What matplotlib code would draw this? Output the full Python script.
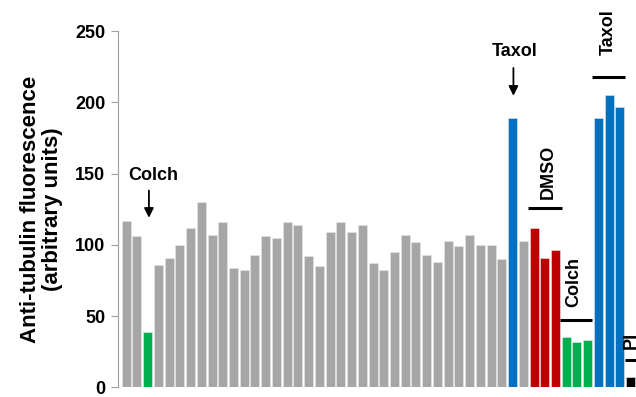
import matplotlib.pyplot as plt
import numpy as np

plt.rcParams['font.family'] = ['Liberation Sans', 'DejaVu Sans']
plt.rcParams['font.weight'] = 'bold'

# screening wells, then controls
screen_vals = [117, 106, 39, 86, 91, 100, 112, 130, 107, 116, 84, 82,
               93, 106, 105, 116, 114, 92, 85, 109, 116, 109, 114, 87,
               82, 95, 107, 102, 93, 88, 103, 99, 107, 100, 100, 90,
               189, 103]
colch_hit = 2
taxol_hit = 36
dmso_vals = [112, 91, 96]
colch_vals = [35, 32, 33]
taxol_vals = [189, 205, 197]
pi_vals = [7]

GRAY = '#a6a6a6'
GREEN = '#00b050'
BLUE = '#0070c0'
RED = '#c00000'

heights = screen_vals + dmso_vals + colch_vals + taxol_vals + pi_vals
colors = [GRAY] * len(screen_vals)
colors[colch_hit] = GREEN
colors[taxol_hit] = BLUE
colors += [RED] * len(dmso_vals) + [GREEN] * len(colch_vals) \
    + [BLUE] * len(taxol_vals) + ['black'] * len(pi_vals)
x = np.arange(len(heights))

fig = plt.figure(figsize=(6.36, 3.97), dpi=100)
ax = fig.add_axes([118 / 636, 9.7 / 397, 518 / 636, 356.3 / 397])

ax.bar(x, heights, width=0.84, color=colors, edgecolor='#e6e6e6', linewidth=0.4)

ax.set_xlim(-0.76, 47.5)
ax.set_ylim(0, 250)
ax.set_yticks(np.arange(0, 251, 50))
ax.set_xticks([])
for s in ['top', 'right', 'bottom']:
    ax.spines[s].set_visible(False)
ax.spines['left'].set_color('#a0a0a0')
ax.tick_params(axis='y', direction='out', length=5, color='#a0a0a0',
               labelsize=13, pad=4)
ax.set_ylabel('Anti-tubulin fluorescence\n(arbitrary units)', fontsize=16,
              fontweight='bold', labelpad=9, linespacing=1.05)

# arrows to the hits in the screen
arrow = dict(arrowstyle='-|>', color='black', lw=1.3, mutation_scale=14)
ax.text(2.5, 148.7, 'Colch', ha='center', va='center', fontsize=13)
ax.annotate('', xy=(2.12, 117), xytext=(2.12, 140), arrowprops=arrow)
ax.text(36.2, 235.8, 'Taxol', ha='center', va='center', fontsize=13,
        clip_on=False)
ax.annotate('', xy=(36.08, 202.6), xytext=(36.08, 226), arrowprops=arrow,
            annotation_clip=False)

# control groups: bar over each group and rotated label
groups = [('DMSO', 37.45, 40.6, 126, 39.3, 151),
          ('Colch', 40.4, 43.4, 47.5, 41.7, 74),
          ('Taxol', 43.4, 46.5, 217.6, 44.9, 249),
          ('PI', 46.5, 47.6, 19, 47.05, 33)]
for name, x0, x1, yl, tx, ty in groups:
    ax.plot([x0, x1], [yl, yl], color='black', lw=2.2, clip_on=False,
            solid_capstyle='butt')
    ax.text(tx, ty, name, rotation=90, ha='center', va='center',
            fontsize=13, clip_on=False)

fig.savefig('out.png', dpi=100)
